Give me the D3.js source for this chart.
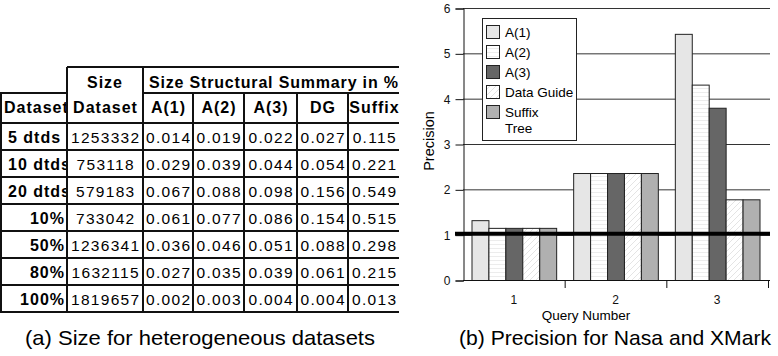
<!DOCTYPE html>
<html><head><meta charset="utf-8">
<script src="https://cdn.jsdelivr.net/npm/d3@7"></script>
<style>
html,body{margin:0;padding:0;background:#fff;}
svg{display:block;font-family:"Liberation Sans",Arial,sans-serif;}
</style></head>
<body>
<svg id="c" width="778" height="356"></svg>
<script>
// ---------- Table data ----------
const rowLabels = ["5 dtds","10 dtds","20 dtds","10%","50%","80%","100%"];
const sizeDataset = [1253332, 753118, 579183, 733042, 1236341, 1632115, 1819657];
const sumA1 = [0.014,0.029,0.067,0.061,0.036,0.027,0.002];
const sumA2 = [0.019,0.039,0.088,0.077,0.046,0.035,0.003];
const sumA3 = [0.022,0.044,0.098,0.086,0.051,0.039,0.004];
const sumDG = [0.027,0.054,0.156,0.154,0.088,0.061,0.004];
const sumSuffix = [0.115,0.221,0.549,0.515,0.298,0.215,0.013];
const colHeaders = ["Dataset","Dataset","A(1)","A(2)","A(3)","DG","Suffix"];

// ---------- Chart data ----------
const queries = ["1","2","3"];
const seriesNames = ["A(1)","A(2)","A(3)","Data Guide","Suffix Tree"];
const precA1 = [1.32, 2.36, 5.43];
const precA2 = [1.15, 2.36, 4.31];
const precA3 = [1.15, 2.36, 3.80];
const precDG = [1.15, 2.36, 1.78];
const precSuffix = [1.15, 2.36, 1.78];
const yTicks = [0,1,2,3,4,5,6];
const referenceLine = 1;

const svg = d3.select("#c");
svg.append("rect").attr("width",778).attr("height",356).attr("fill","#fff");

// ================= TABLE =================
const colEdges = [1, 67, 143, 193, 244, 297, 348, 400];
const tTop = 67, h1 = 26, h2 = 30, rowH = 27;
const dataTop = tTop + h1 + h2;
const nRows = rowLabels.length;
const tBottom = dataTop + rowH * nRows;
const rowY = d3.scaleLinear().domain([0, nRows]).range([dataTop, tBottom]);

const defsT = svg.append("defs");
defsT.append("clipPath").attr("id","tclip").append("rect")
  .attr("x",0).attr("y",0).attr("width",399).attr("height",356);
defsT.append("clipPath").attr("id","c0clip").append("rect")
  .attr("x",0).attr("y",0).attr("width",66).attr("height",356);
const tg = svg.append("g").attr("clip-path","url(#tclip)");
const tg0 = svg.append("g").attr("clip-path","url(#c0clip)");

const cols = [
  rowLabels,
  sizeDataset.map(String),
  sumA1.map(v=>v.toFixed(3)),
  sumA2.map(v=>v.toFixed(3)),
  sumA3.map(v=>v.toFixed(3)),
  sumDG.map(v=>v.toFixed(3)),
  sumSuffix.map(v=>v.toFixed(3))
];

// cell texts
cols.forEach((col, ci) => {
  const x0 = colEdges[ci], x1 = colEdges[ci+1];
  col.forEach((txt, ri) => {
    const yb = rowY(ri) + 19.5;
    if (ci === 0) {
      const t = tg0.append("text").attr("y", yb).attr("font-size", 16).text(txt)
        .attr("font-weight","bold").attr("letter-spacing", 1);
      if (txt.includes("%")) t.attr("x", x1 - 2).attr("text-anchor","end");
      else t.attr("x", 8);
    } else {
      tg.append("text").attr("y", yb).attr("font-size", 15.5).text(txt)
        .attr("x",(x0+x1)/2 + 0.75).attr("text-anchor","middle").attr("letter-spacing",1.3);
    }
  });
});

// header texts
tg.append("text").attr("x",(colEdges[1]+colEdges[2])/2).attr("y",tTop+21)
  .attr("text-anchor","middle").attr("font-weight","bold").attr("font-size",16)
  .attr("letter-spacing",1).text("Size");
tg.append("text").attr("x",149).attr("y",tTop+21)
  .attr("font-weight","bold").attr("font-size",16)
  .attr("textLength",249).attr("lengthAdjust","spacing")
  .text("Size Structural Summary in %");
colHeaders.forEach((h, ci) => {
  const x0 = colEdges[ci], x1 = colEdges[ci+1];
  const g = ci === 0 ? tg0 : tg;
  const t = g.append("text").attr("y", tTop + h1 + 20).attr("font-weight","bold")
    .attr("font-size",16).attr("letter-spacing",1).text(h);
  if (ci === 0) t.attr("x", 4);
  else t.attr("x",(x0+x1)/2 + 0.5).attr("text-anchor","middle");
});

// table lines
const L = (x1,y1,x2,y2) => tg.append("line").attr("x1",x1).attr("y1",y1).attr("x2",x2).attr("y2",y2)
  .attr("stroke","#111").attr("stroke-width",2);
L(colEdges[1], tTop, 402, tTop);
L(colEdges[0]-1, tTop+h1, colEdges[1], tTop+h1);
L(colEdges[2], tTop+h1, 402, tTop+h1);
for (let r = 0; r <= nRows; r++) L(colEdges[0]-1, rowY(r), 402, rowY(r));
L(colEdges[0], tTop+h1, colEdges[0], tBottom+1);
L(colEdges[1], tTop, colEdges[1], tBottom+1);
L(colEdges[2], tTop, colEdges[2], tBottom+1);
for (let c = 3; c < colEdges.length-1; c++) L(colEdges[c], tTop+h1, colEdges[c], tBottom+1);

// caption (a)
svg.append("text").attr("x",25).attr("y",345).attr("font-size",21)
  .attr("textLength",350).attr("lengthAdjust","spacingAndGlyphs")
  .text("(a) Size for heterogeneous datasets");

// ================= CHART =================
const x0c = 463, x1c = 768, y0c = 280, y1c = 8;
const x = d3.scaleBand().domain(queries).range([x0c, x1c]).paddingInner(0).paddingOuter(0);
const y = d3.scaleLinear().domain([0, 6]).range([y0c, y1c]);
const xs = d3.scaleBand().domain(seriesNames).range([8.5, x.bandwidth()-8.5]).padding(0);
const seriesVals = [precA1, precA2, precA3, precDG, precSuffix];
const fills = ["#e6e6e6","url(#hstripe)","#666666","url(#dstripe)","#b0b0b0"];

const defs = svg.append("defs");
const ph = defs.append("pattern").attr("id","hstripe").attr("patternUnits","userSpaceOnUse")
  .attr("width",6).attr("height",4);
ph.append("rect").attr("width",6).attr("height",4).attr("fill","#fff");
ph.append("line").attr("x1",0).attr("x2",6).attr("y1",0.5).attr("y2",0.5).attr("stroke","#ececec").attr("stroke-width",1);
const pd = defs.append("pattern").attr("id","dstripe").attr("patternUnits","userSpaceOnUse")
  .attr("width",6).attr("height",6);
pd.append("rect").attr("width",6).attr("height",6).attr("fill","#fff");
pd.append("path").attr("d","M0,6 L6,0 M-1,1 L1,-1 M5,7 L7,5").attr("stroke","#e4e4e4").attr("stroke-width",1);

// gridlines
svg.append("g").selectAll("line").data(yTicks.filter(d=>d>0)).join("line")
  .attr("x1", x0c).attr("x2", x1c+2).attr("y1", d=>y(d)+0.5).attr("y2", d=>y(d)+0.5)
  .attr("stroke","#333").attr("stroke-width",1);

// bars
const bars = svg.append("g");
queries.forEach((q, qi) => {
  seriesNames.forEach((s, si) => {
    const v = seriesVals[si][qi];
    bars.append("rect")
      .attr("x", x(q) + xs(s) + 0.5).attr("width", xs.bandwidth())
      .attr("y", y(v) + 0.5).attr("height", y(0) - y(v))
      .attr("fill", fills[si]).attr("stroke","#222").attr("stroke-width",1);
  });
});

// y axis
const yAxis = d3.axisLeft(y).tickValues(yTicks).tickSize(8).tickPadding(5).tickFormat(d3.format("d"));
const gy = svg.append("g").attr("transform",`translate(${x0c+0.5},0.5)`).call(yAxis);
gy.select(".domain").attr("stroke","#111");
gy.selectAll(".tick line").attr("stroke","#111");
gy.selectAll("text").attr("font-size",12).attr("font-family","Liberation Sans, Arial, sans-serif").attr("fill","#111");

// x axis
const xAxis = d3.axisBottom(x).tickSize(0).tickPadding(15);
const gx = svg.append("g").attr("transform",`translate(0,${y0c+0.5})`).call(xAxis);
gx.select(".domain").attr("stroke","#111").attr("d",`M${x0c},0H${x1c+2}`);
gx.selectAll("text").attr("font-size",12).attr("font-family","Liberation Sans, Arial, sans-serif").attr("fill","#111");
// band boundary ticks
svg.append("g").selectAll("line").data(queries.slice(1).concat(["end"])).join("line")
  .attr("x1", d => (d==="end" ? x1c : x(d)) + 0.5).attr("x2", d => (d==="end" ? x1c : x(d)) + 0.5)
  .attr("y1", y0c).attr("y2", y0c + 8).attr("stroke","#111");

// reference line at precision 1
svg.append("line").attr("x1",455).attr("x2",770).attr("y1",y(referenceLine)-1).attr("y2",y(referenceLine)-1)
  .attr("stroke","#000").attr("stroke-width",4);

// axis titles
svg.append("text").attr("x",586).attr("y",320).attr("text-anchor","middle").attr("font-size",13.5)
  .text("Query Number");
svg.append("text").attr("transform","translate(434,141) rotate(-90)").attr("text-anchor","middle")
  .attr("font-size",14.5).text("Precision");

// legend
const lg = svg.append("g");
lg.append("rect").attr("x",482.5).attr("y",18.5).attr("width",94).attr("height",122)
  .attr("fill","#fff").attr("stroke","#222").attr("stroke-width",1);
const legY = d3.scaleBand().domain(seriesNames).range([22, 122]).padding(0);
seriesNames.forEach((s, si) => {
  const yc = legY(s) + 10;
  lg.append("rect").attr("x",486.5).attr("y",yc-6.5).attr("width",13).attr("height",13)
    .attr("fill",fills[si]).attr("stroke","#222").attr("stroke-width",1);
  const words = s === "Suffix Tree" ? ["Suffix","Tree"] : [s];
  words.forEach((w, wi) => {
    lg.append("text").attr("x",505).attr("y",yc + 5 + wi*16).attr("font-size",13.5).text(w);
  });
});

// caption (b)
svg.append("text").attr("x",459).attr("y",345).attr("font-size",21)
  .attr("textLength",312).attr("lengthAdjust","spacingAndGlyphs")
  .text("(b) Precision for Nasa and XMark");
</script>
</body></html>
